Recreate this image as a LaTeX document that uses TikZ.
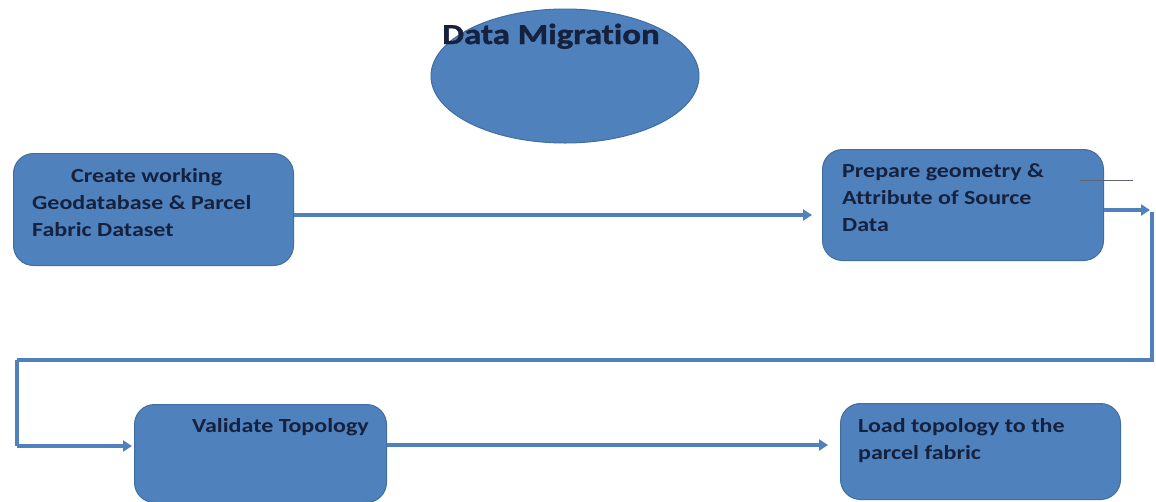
\documentclass[tikz,border=0pt]{standalone}
\usepackage{fontspec}
\setmainfont{Carlito}[FakeStretch=1.2, Ligatures=NoCommon]
\newfontfamily\titlefont{Carlito Bold}[FakeStretch=1.2, FakeBold=1.2, Ligatures=NoCommon]
\usetikzlibrary{shapes.geometric,arrows.meta}
\definecolor{boxblue}{RGB}{79,129,189}
\definecolor{edgeblue}{RGB}{65,110,160}
\definecolor{ink}{RGB}{22,33,62}
\tikzset{
  stepbox/.style={rectangle, rounded corners=20pt, fill=boxblue, draw=edgeblue, line width=1pt, anchor=north west},
  label/.style={text=ink, font=\fontsize{20}{27}\selectfont\bfseries, align=left, anchor=north west, inner sep=0pt},
  flow/.style={draw=boxblue, line width=4pt},
  flowarrow/.style={flow, -{Triangle[length=9pt,width=11pt]}},
}
\begin{document}
\begin{tikzpicture}[x=1pt,y=-1pt]
\useasboundingbox[fill=white] (0,0) rectangle (1156,501);

% title ellipse
\node[ellipse, fill=boxblue, draw=edgeblue, line width=1pt, minimum width=268pt, minimum height=134pt] (title) at (565,76) {};
\node[text=ink, font=\titlefont\fontsize{29}{34}\selectfont, anchor=base west, inner sep=0pt] (titletext) at (442,44) {Data Migration};

% process boxes
\node[stepbox, minimum width=280pt, minimum height=112pt] (create) at (13,153) {};
\node[stepbox, minimum width=281pt, minimum height=111pt] (prepare) at (822,149) {};
\node[stepbox, minimum width=252pt, minimum height=98pt] (validate) at (134,404) {};
\node[stepbox, minimum width=280pt, minimum height=96pt] (load) at (840,403) {};

% box texts
\node[label] (createtext) at (32,168) {\hspace*{39pt}Create working\\Geodatabase \& Parcel\\Fabric Dataset};
\node[label] (preparetext) at (842,163) {Prepare geometry \&\\Attribute of Source\\Data};
\node[label] (validatetext) at (192,418) {Validate Topology};
\node[label] (loadtext) at (858,418) {Load topology to the\\parcel fabric};

% short dark stroke inside the second box
\coordinate (tickA) at (1080,180);
\coordinate (tickB) at (1133,180);
\draw[ink!70, line width=1pt] (tickA) -- (tickB);

% connectors
\coordinate (c1) at (812,215);
\draw[flowarrow] (create.east |- c1) -- (c1);

\coordinate (c2) at (1150,210);
\draw[flowarrow] (prepare.east |- c2) -- (c2);

\coordinate (r1) at (1152,212);
\coordinate (r2) at (1152,360);
\coordinate (l1) at (17,360);
\coordinate (l2) at (17,446);
\coordinate (c3) at (132,446);
\draw[flow] (r1) -- (r2) -- (l1);
\draw[flow] (l1) -- (l2);
\draw[flowarrow] (l2) -- (c3);

\coordinate (c4) at (828,445);
\draw[flowarrow] (validate.east |- c4) -- (c4);
\end{tikzpicture}
\end{document}
